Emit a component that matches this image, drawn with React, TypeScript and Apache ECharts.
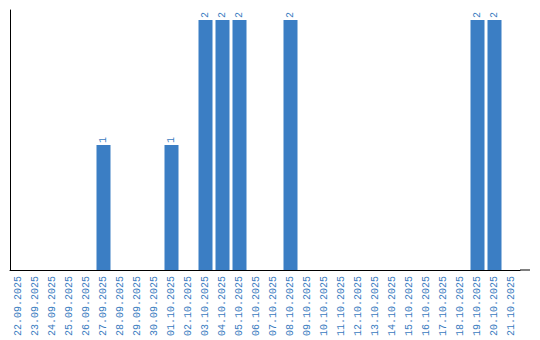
import React, { useEffect, useRef } from "react";
import * as echarts from "echarts";

const categories = [
  "22.09.2025", "23.09.2025", "24.09.2025", "25.09.2025", "26.09.2025",
  "27.09.2025", "28.09.2025", "29.09.2025", "30.09.2025", "01.10.2025",
  "02.10.2025", "03.10.2025", "04.10.2025", "05.10.2025", "06.10.2025",
  "07.10.2025", "08.10.2025", "09.10.2025", "10.10.2025", "11.10.2025",
  "12.10.2025", "13.10.2025", "14.10.2025", "15.10.2025", "16.10.2025",
  "17.10.2025", "18.10.2025", "19.10.2025", "20.10.2025", "21.10.2025",
];
const values = [
  0, 0, 0, 0, 0,
  1, 0, 0, 0, 1,
  0, 2, 2, 2, 0,
  0, 2, 0, 0, 0,
  0, 0, 0, 0, 0,
  0, 0, 2, 2, 0,
];

const BLUE = "#3b7ec4";
const TEXT_BLUE = "#3a7bc0";
const FONT = "Liberation Mono";

export default function App() {
  const ref = useRef<HTMLDivElement>(null);
  useEffect(() => {
    if (!ref.current) return;
    const chart = echarts.init(ref.current, undefined, { renderer: "svg" });
    chart.setOption({
      animation: false,
      grid: { left: 10, top: 10, width: 510, bottom: 70, containLabel: false },
      xAxis: {
        type: "category",
        data: categories,
        axisLine: { show: true, lineStyle: { color: "#000", width: 1 } },
        axisTick: { show: false },
        axisLabel: {
          rotate: 90,
          interval: 0,
          margin: 6,
          color: TEXT_BLUE,
          fontFamily: FONT,
          fontSize: 10,
        },
      },
      yAxis: {
        type: "value",
        min: 0,
        max: 2.08,
        axisLine: { show: true, lineStyle: { color: "#000", width: 1 } },
        axisTick: { show: false },
        axisLabel: { show: false },
        splitLine: { show: false },
      },
      graphic: [
        {
          type: "line",
          shape: { x1: 520, y1: 270, x2: 530, y2: 270 },
          style: { stroke: "#000", lineWidth: 1 },
        },
      ],
      series: [
        {
          type: "bar",
          data: values,
          barWidth: 14,
          itemStyle: { color: BLUE },
          label: {
            show: true,
            position: "top",
            rotate: 90,
            align: "left",
            verticalAlign: "middle",
            distance: 2,
            color: TEXT_BLUE,
            fontFamily: FONT,
            fontSize: 10,
            formatter: (p: any) => (p.value ? String(p.value) : ""),
          },
        },
      ],
    });
    return () => chart.dispose();
  }, []);
  return <div ref={ref} style={{ width: 540, height: 340, position: "absolute", left: 0, top: 0 }} />;
}
